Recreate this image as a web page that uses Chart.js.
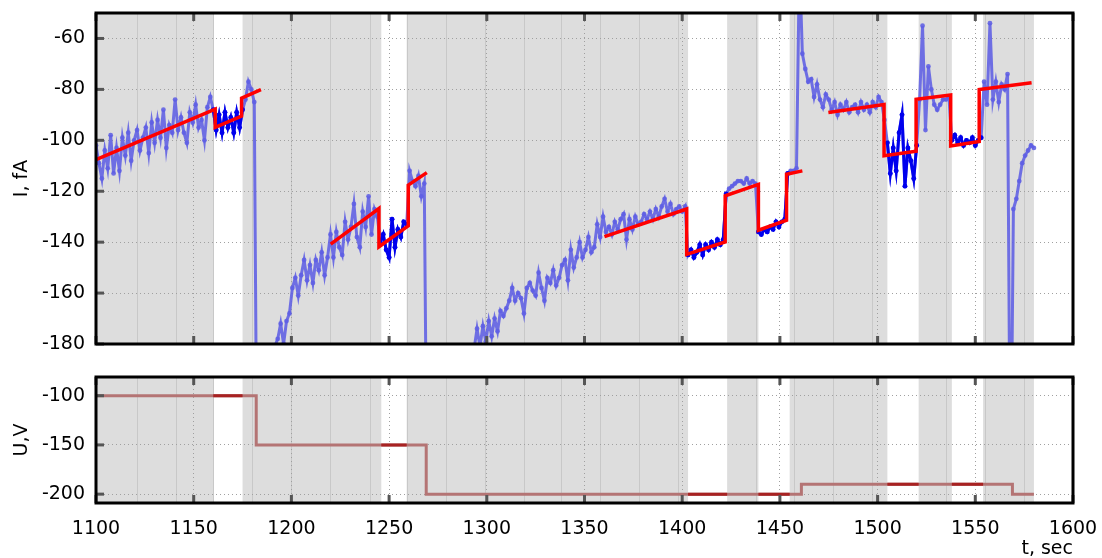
<!DOCTYPE html>
<html>
<head>
<meta charset="utf-8">
<script src="https://cdn.jsdelivr.net/npm/chart.js@4/dist/chart.umd.min.js"></script>
<style>
  body { margin: 0; background: #fff; }
  #wrap { position: relative; width: 1102px; height: 558px; }
  canvas { position: absolute; left: 0; }
</style>
</head>
<body>
<div id="wrap">
  <canvas id="chartI" width="1102" height="350" style="top:0"></canvas>
  <canvas id="chartU" width="1102" height="208" style="top:350px"></canvas>
</div>
<script>
// sampling of the current record
const T_START = 1100;
const T_STEP = 1.5;

// I, fA  (one row = 10 samples = 15 s, row start in comment)
const current = [
  -102, -109, -115, -104, -111, -98, -113, -103, -112, -99,   // 1100
  -106, -97, -108, -100, -96, -104, -99, -95, -105, -93,      // 1115
  -101, -92, -99, -88, -103, -94, -97, -84, -96, -91,         // 1130
  -97, -101, -89, -93, -86, -95, -92, -100, -87, -83,         // 1145
  -88, -96, -90, -97, -89, -95, -91, -97, -89, -95,           // 1160
  -88, -84, -77, -80, -85, -250, -240, -225, -210, -200,      // 1175
  -190, -181, -178, -172, -180, -171, -168, -158, -154, -161, // 1190
  -153, -147, -155, -149, -156, -147, -151, -144, -153, -146, // 1205
  -137, -146, -136, -142, -145, -132, -139, -134, -125, -138, // 1220
  -142, -128, -134, -122, -137, -127, -130, -140, -137, -143, // 1235
  -146, -131, -142, -135, -138, -132, -133, -112, -116, -118, // 1250
  -114, -122, -117, -250, -250, -245, -240, -235, -228, -222, // 1265
  -215, -208, -202, -197, -193, -189, -186, -183, -181, -182, // 1280
  -174, -181, -173, -179, -171, -177, -170, -175, -167, -169, // 1295
  -166, -163, -158, -163, -160, -162, -168, -158, -156, -159, // 1310
  -161, -152, -158, -163, -154, -156, -151, -157, -154, -149, // 1325
  -147, -155, -143, -150, -146, -140, -146, -143, -138, -144, // 1340
  -142, -133, -138, -130, -136, -134, -137, -132, -135, -131, // 1355
  -129, -139, -131, -135, -130, -133, -132, -129, -131, -128, // 1370
  -131, -127, -130, -126, -123, -128, -125, -129, -127, -126, // 1385
  -128, -126, -145, -143, -146, -144, -141, -145, -141, -143, // 1400
  -140, -142, -139, -141, -139, -121, -119, -118, -117, -116, // 1415
  -116, -117, -115, -117, -116, -117, -136, -137, -135, -136, // 1430
  -134, -135, -132, -134, -132, -131, -113, -112, -112, -111, // 1445
  -30, -66, -72, -77, -76, -83, -78, -84, -87, -82,           // 1460
  -84, -88, -85, -90, -86, -88, -85, -89, -87, -86,           // 1475
  -89, -85, -88, -86, -89, -85, -87, -83, -85, -92,           // 1490
  -101, -113, -103, -112, -97, -90, -118, -103, -108, -115,   // 1505
  -102, -84, -55, -96, -71, -80, -86, -88, -86, -84,          // 1520
  -84, -83, -100, -98, -101, -99, -102, -100, -101, -99,      // 1535
  -102, -100, -99, -77, -86, -54, -84, -77, -85, -78,         // 1550
  -80, -74, -250, -127, -123, -116, -109, -106, -104, -102,   // 1565
  -103                                                        // 1580
];

// linear fits (null = break between fitted blocks)
const fitT = [1100, 1161, 1161, 1174.5, 1174.5, 1184.4, null,
              1220.1, 1244.8, 1244.8, 1259.8, 1259.8, 1269.3, null,
              1360.2, 1402.3, 1402.3, 1422, 1422, 1439, 1439, 1453.4, 1453.4, 1461.5, null,
              1474.8, 1503.3, 1503.3, 1519.7, 1519.7, 1537.4, 1537.4, 1552, 1552, 1578.8];
const fitI = [-107.6, -87.8, -94.9, -90.5, -83.4, -80.1, null,
              -140.8, -126.8, -141.8, -133.6, -117.6, -112.7, null,
              -137.8, -127.0, -144.8, -139.9, -121.8, -117.3, -135.3, -131.4, -113.3, -112.0, null,
              -89.1, -85.9, -106.1, -104.3, -83.9, -82.2, -102.2, -100.5, -80.1, -77.4];

// voltage steps (value holds until the next step time)
const voltT = [1100, 1182, 1269, 1461, 1569, 1580];
const voltU = [-100, -150, -200, -190, -200, -200];

// grey (shaded) intervals
const shadeFrom = [1090, 1175, 1259, 1423, 1455, 1521, 1554];
const shadeTo   = [1160, 1246, 1403, 1439, 1505, 1538, 1580];
// white intervals between them
const openFrom = [1160, 1246, 1403, 1439, 1505, 1538];
const openTo   = [1175, 1259, 1423, 1455, 1521, 1554];
// cycle marks visible inside the shading
const cycleT = [1121, 1141, 1160, 1180, 1200, 1220, 1240, 1259, 1279, 1299, 1319, 1338,
                1358, 1378, 1398, 1418, 1438, 1457, 1477, 1497, 1516, 1535, 1555, 1575];

const xTicks = [1100, 1150, 1200, 1250, 1300, 1350, 1400, 1450, 1500, 1550, 1600];
const iTicks = [-180, -160, -140, -120, -100, -80, -60];
const uTicks = [-200, -150, -100];

const FONT = { family: 'DejaVu Sans', size: 19 };

const points = current.map((v, i) => ({ x: T_START + i * T_STEP, y: v }));

// samples in white intervals, drawn darker
const openPoints = [];
openFrom.forEach((a, k) => {
  points.forEach(p => { if (p.x >= a - 1 && p.x <= openTo[k]) openPoints.push({ x: p.x, y: p.y }); });
  openPoints.push({ x: openTo[k] + 0.1, y: null });
});

const fitPoints = fitT.map((t, i) => ({ x: t === null ? fitT[i - 1] + 0.1 : t, y: fitI[i] }));

const voltPoints = voltT.map((t, i) => ({ x: t, y: voltU[i] }));
function voltAt(t) {
  let u = voltU[0];
  voltT.forEach((vt, i) => { if (vt <= t) u = voltU[i]; });
  return u;
}
const voltOpen = [];
openFrom.forEach((a, k) => {
  voltOpen.push({ x: a, y: voltAt(a) }, { x: openTo[k], y: voltAt(a) }, { x: openTo[k] + 0.1, y: null });
});

const decor = {
  id: 'decor',
  beforeDraw(chart) {
    const { ctx, chartArea: a, scales: { x } } = chart;
    ctx.save();
    ctx.beginPath();
    ctx.rect(a.left, a.top, a.width, a.height);
    ctx.clip();
    ctx.fillStyle = '#dddddd';
    shadeFrom.forEach((s, i) => {
      const x0 = x.getPixelForValue(s), x1 = x.getPixelForValue(shadeTo[i]);
      ctx.fillRect(x0, a.top, x1 - x0, a.height);
    });
    ctx.strokeStyle = '#c8c8c8';
    ctx.lineWidth = 1;
    cycleT.forEach(t => {
      if (!shadeFrom.some((s, i) => t >= s && t <= shadeTo[i])) return;
      const px = Math.round(x.getPixelForValue(t)) + 0.5;
      ctx.beginPath();
      ctx.moveTo(px, a.top);
      ctx.lineTo(px, a.bottom);
      ctx.stroke();
    });
    ctx.restore();
  },
  afterDraw(chart) {
    const { ctx, chartArea: a, scales: { x, y } } = chart;
    ctx.save();
    ctx.fillStyle = '#555';
    x.ticks.forEach(t => {
      const px = x.getPixelForValue(t.value);
      ctx.fillRect(px - 1.5, a.top, 3, 8);
      ctx.fillRect(px - 1.5, a.bottom - 8, 3, 8);
    });
    y.ticks.forEach(t => {
      const py = y.getPixelForValue(t.value);
      ctx.fillRect(a.left, py - 1.5, 8, 3);
    });
    ctx.strokeStyle = '#000';
    ctx.lineWidth = 3;
    ctx.strokeRect(a.left, a.top, a.width, a.height);
    ctx.restore();
  }
};

function xScale(showLabels) {
  return {
    type: 'linear', min: 1100, max: 1600,
    afterBuildTicks: s => { s.ticks = xTicks.map(v => ({ value: v })); },
    afterFit: s => {
      s.height = showLabels ? 55 : 0;
      s.paddingLeft = 0; s.paddingRight = 0; s.paddingTop = 0; s.paddingBottom = 0;
    },
    grid: { color: '#a0a0a0', lineWidth: 1, drawTicks: false },
    border: { display: false, dash: [1, 3] },
    ticks: { display: showLabels, color: '#000', font: FONT, padding: 15, maxRotation: 0,
             callback: v => String(v) },
    title: { display: showLabels, text: 't, sec', align: 'end', color: '#000', font: FONT, padding: { top: 0, bottom: -2 } }
  };
}

function yScale(min, max, ticks, label) {
  return {
    min: min, max: max,
    afterBuildTicks: s => { s.ticks = ticks.map(v => ({ value: v })); },
    afterFit: s => {
      s.width = 96;
      s.paddingLeft = 0; s.paddingRight = 0; s.paddingTop = 0; s.paddingBottom = 0;
    },
    grid: { color: '#a0a0a0', lineWidth: 1, drawTicks: false },
    border: { display: false, dash: [1, 3] },
    ticks: { color: '#000', font: FONT, padding: 11, callback: v => String(v) },
    title: { display: true, text: label, color: '#000', font: FONT, padding: { top: 11, bottom: 0 } }
  };
}

const common = {
  responsive: false,
  animation: false,
  events: [],
  plugins: { legend: { display: false }, tooltip: { enabled: false } }
};

// order: higher value is drawn first (underneath)
new Chart(document.getElementById('chartI').getContext('2d'), {
  type: 'line',
  data: {
    datasets: [{
      data: points,
      order: 3,
      borderColor: 'rgba(95,95,228,0.88)',
      backgroundColor: 'rgba(95,95,228,0.88)',
      borderWidth: 3,
      pointRadius: 2.4,
      pointBorderWidth: 0,
      tension: 0
    }, {
      data: openPoints,
      order: 2,
      borderColor: '#0000ee',
      backgroundColor: '#0000ee',
      borderWidth: 3,
      pointRadius: 2.4,
      pointBorderWidth: 0,
      spanGaps: false
    }, {
      data: fitPoints,
      order: 1,
      borderColor: '#ff0000',
      borderWidth: 3.5,
      pointRadius: 0,
      spanGaps: false
    }]
  },
  options: Object.assign({}, common, {
    layout: { padding: { top: 13, right: 29, bottom: 6, left: 0 } },
    scales: { x: xScale(false), y: yScale(-180, -50, iTicks, 'I, fA') }
  }),
  plugins: [decor]
});

new Chart(document.getElementById('chartU').getContext('2d'), {
  type: 'line',
  data: {
    datasets: [{
      data: voltPoints,
      order: 2,
      stepped: 'before',
      borderColor: '#b47474',
      borderWidth: 3,
      pointRadius: 0
    }, {
      data: voltOpen,
      order: 1,
      borderColor: '#a82222',
      borderWidth: 3,
      pointRadius: 0,
      spanGaps: false
    }]
  },
  options: Object.assign({}, common, {
    layout: { padding: { top: 27, right: 29, bottom: 0, left: 0 } },
    scales: { x: xScale(true), y: yScale(-209, -81, uTicks, 'U,V') }
  }),
  plugins: [decor]
});
</script>
</body>
</html>
